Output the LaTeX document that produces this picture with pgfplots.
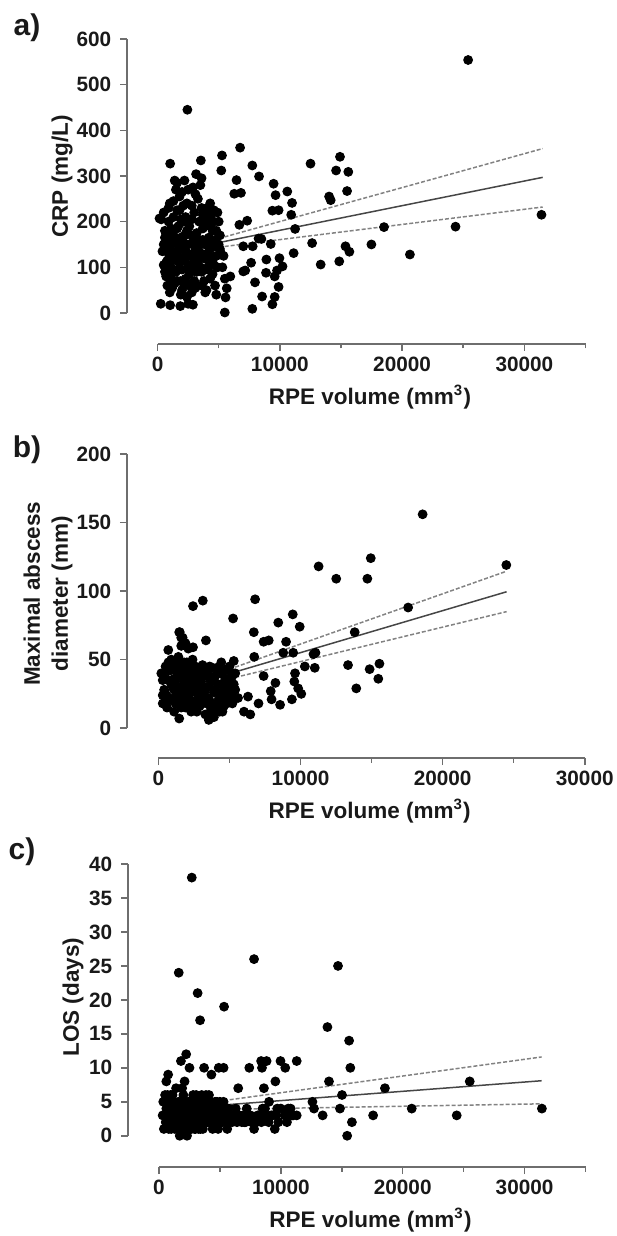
\documentclass[border=0pt]{standalone}
\usepackage{fontspec}
\setmainfont{Liberation Sans}
\usepackage{pgfplots}
\pgfplotsset{compat=1.18}
\definecolor{axgray}{RGB}{110,110,110}
\definecolor{txt}{RGB}{25,25,25}
\definecolor{fitline}{RGB}{70,70,70}
\definecolor{ciline}{RGB}{130,130,130}

\pgfplotsset{
  panel/.style={
    scale only axis,
    axis lines=left,
    axis line style={draw=none},
    tick align=outside,
    major tick length=2.8pt,
    minor tick length=1.8pt,
    every tick/.style={axgray, line width=0.6pt},
    /pgf/number format/assume math mode=true,
    ticklabel style={font=\fontsize{8.3}{9}\selectfont\bfseries, text=txt},
    xticklabel style={yshift=1pt},
    label style={font=\fontsize{9}{11.2}\selectfont\bfseries, text=txt},
    clip=false,
    scaled x ticks=false,
    xtick={0,10000,20000,30000},
    xticklabels={0,10000,20000,30000},
    xlabel={RPE volume (mm\textsuperscript{3})},
    xlabel style={at={(rel axis cs:0.53,0)}, anchor=center, yshift=-21.2pt},
  },
  dots/.style={only marks, mark=*, mark size=1.75pt, black, mark options={fill=black, draw=black}},
  fit/.style={fitline, line width=0.6pt, no marks},
  ci/.style={ciline, line width=0.6pt, dash pattern=on 1.6pt off 0.8pt, no marks},
}

\begin{document}
\begin{tikzpicture}
\path[use as bounding box] (0,0) rectangle (246.4pt,-494.4pt);

\node[font=\fontsize{12}{13}\selectfont\bfseries, text=txt] at (10.8pt,-11.2pt) {a)};
\node[font=\fontsize{12}{13}\selectfont\bfseries, text=txt] at (10.8pt,-180pt) {b)};
\node[font=\fontsize{12}{13}\selectfont\bfseries, text=txt] at (8.8pt,-340.8pt) {c)};

% ---------------- a) CRP
\begin{axis}[panel,
  at={(50.8pt,-137.6pt)}, anchor=south west,
  width=183.4pt, height=122pt,
  xmin=-2500, xmax=35000, ymin=-68, ymax=600,
  ytick={0,100,200,300,400,500,600},
  minor xtick={5000,15000,25000,35000},
  ylabel={CRP (mg/L)},
  ylabel style={at={(rel axis cs:0,0.55)}, anchor=center, yshift=26pt},
]
\draw[axgray, line width=0.6pt] (axis cs:-2500,0) -- (axis cs:-2500,600);
\draw[axgray, line width=0.6pt] (axis cs:0,-68) -- (axis cs:35000,-68);
\addplot[ci] coordinates {(5000,163) (31500,360)};
\addplot[fit] coordinates {(5000,154) (31500,297)};
\addplot[ci] coordinates {(5000,144) (31500,232)};
\addplot[dots] coordinates {
(25400,554)(2440,445)(31400,215)(24370,189)(18520,188)(20640,128)(17490,150)(14860,113)
(13340,106)(12640,153)(12510,327)(14920,342)(14600,312)(15600,309)(15500,267)(14030,255)
(14160,247)(15370,146)(15690,134)(11130,131)(11250,184)(10930,215)(11000,241)(10610,266)
(9490,283)(9650,258)(9390,224)(9900,225)(9260,151)(9970,120)(10220,102)(9770,93)
(9580,80)(9900,57)(9580,35)(9390,19)(8900,117)(8870,88)(8550,36)(8260,163)
(8490,162)(7970,67)(8300,299)(7750,323)(7750,9)(6750,362)(6460,291)(6270,261)
(6820,263)(7330,202)(6690,193)(7010,146)(7780,146)(7650,110)(7170,93)(7010,91)
(5950,80)(5660,54)(5560,34)(5500,1)(5270,345)(5210,312)(3540,334)(3150,304)(1030,327)
(160,207)(260,20)(1030,17)(1860,15)(2500,20)(2890,18)
(300,205)(500,220)(600,165)(400,135)(500,105)(700,80)(800,60)(900,130)(1000,240)
(1100,185)(1200,120)(1300,95)(1000,45)(1400,290)(1500,270)(1600,225)(1700,150)
(1800,110)(1900,70)(2000,50)(2100,200)(2200,170)(2300,135)(2400,240)(2500,100)
(2600,85)(2700,60)(2800,205)(2900,155)(3000,120)(3100,260)(3200,175)(3300,140)
(3400,95)(3500,280)(3600,230)(3700,160)(3800,70)(3900,45)(4000,200)(4100,130)
(4200,105)(4300,240)(4400,215)(4500,180)(4600,145)(4700,60)(4800,125)(4900,220)
(5000,200)(5200,130)(5400,125)(5500,75)(5300,100)(1200,160)(800,115)(1500,90)
(2000,120)(2500,150)(3000,70)(3500,100)(4000,50)(4500,85)(1800,140)(2200,115)
(2700,125)(3200,130)(1400,65)(1900,40)(2400,35)(900,100)(1600,185)(2100,235)
(3800,120)(4200,165)(1100,140)(1700,125)(2900,95)(3400,200)(2600,190)(1300,210)
(700,140)(2000,95)(3600,90)(4400,120)(3100,55)(2300,75)(1000,110)(1500,160)
(2800,45)(4100,95)(3900,150)(4600,225)(5100,170)(4800,40)(3300,250)(2500,270)
(1800,255)(2200,290)(1600,285)(3700,215)(4300,190)(600,90)(1200,55)(1900,205)
(600,180)(900,200)(1100,75)(1300,170)(1700,190)(1700,95)(2100,155)(2300,210)
(2400,180)(2600,125)(2800,170)(3000,220)(3000,160)(3200,90)(3400,160)(3600,130)
(3700,185)(3900,95)(4100,230)(4300,75)(4500,115)(4700,160)(4900,100)(5100,140)
(800,170)(1000,150)(1400,130)(1500,115)(1900,165)(2200,60)(2700,105)(3300,110)
(3500,150)(3800,205)(4000,160)(4400,150)(4600,105)(5000,150)(500,150)(700,110)
(1100,90)(1600,70)(2000,145)(2400,130)(2600,60)(2900,130)(3100,140)(3400,120)
(3600,60)(4200,135)(4800,180)(1300,245)(2000,265)(2900,275)(3600,295)(4100,215)
(4600,200)(900,230)(1800,225)(2800,235)
};
\end{axis}

% ---------------- b) Maximal abscess diameter
\begin{axis}[panel,
  at={(50.8pt,-303.2pt)}, anchor=south west,
  width=183.1pt, height=121.6pt,
  xmin=-2215, xmax=30000, ymin=-21.8, ymax=200,
  ytick={0,50,100,150,200},
  minor xtick={5000,15000,25000},
  ylabel={Maximal abscess\\diameter (mm)},
  ylabel style={at={(rel axis cs:0,0.54)}, anchor=center, yshift=31.6pt, align=center},
]
\draw[axgray, line width=0.6pt] (axis cs:-2215,0) -- (axis cs:-2215,200);
\draw[axgray, line width=0.6pt] (axis cs:0,-21.8) -- (axis cs:30000,-21.8);
\addplot[ci] coordinates {(5400,44.5) (24500,114.5)};
\addplot[fit] coordinates {(5400,41) (24500,99.5)};
\addplot[ci] coordinates {(5400,37) (24500,85)};
\addplot[dots] coordinates {
(18590,156)(24480,119)(14940,124)(11270,118)(12510,109)(14700,109)(17570,88)(13810,70)
(13340,46)(14860,43)(15550,47)(15470,36)(13920,29)(11050,55)(10910,54)(10300,45)
(11000,44)(9940,74)(9450,83)(8430,77)(8980,63)(8780,55)(9480,55)(7760,64)
(7400,63)(6800,94)(6710,70)(6740,52)(7400,38)(8230,33)(7900,27)(7960,21)
(8560,17)(9390,21)(9560,34)(9610,40)(9830,29)(10050,25)(5250,80)(5300,49)
(7040,18)(6300,23)(6460,10)(6020,12)(3120,93)(2430,89)(3340,64)(1460,70)
(1600,66)(2430,59)(690,57)(1460,7)(3540,6)(4420,48)(5250,20)
(200,40)(300,18)(400,28)(500,45)(600,15)(700,35)(800,22)(900,50)(1000,30)
(1100,12)(1200,42)(1300,25)(1400,52)(1500,18)(1600,38)(1700,28)(1800,48)
(1900,15)(2000,33)(2100,22)(2200,44)(2300,12)(2400,30)(2500,38)(2600,20)
(2700,26)(2800,40)(2900,16)(3000,34)(3100,46)(3200,24)(3300,10)(3400,30)
(3500,42)(3600,20)(3700,8)(3800,36)(3900,26)(4000,14)(4100,44)(4200,32)
(4300,22)(4400,40)(4500,12)(4600,28)(4700,36)(4800,18)(4900,42)(5000,30)
(5100,24)(5200,38)(5400,28)(5600,22)(500,25)(1000,20)(1500,30)(2000,48)
(2500,15)(3000,22)(3500,30)(4000,38)(1200,35)(1800,25)(2200,35)(2800,30)
(3200,38)(800,42)(1600,15)(2400,50)(3600,45)(4200,20)(300,35)(1400,40)
(2600,45)(3800,16)(1100,28)(1900,40)(2700,12)(3300,28)(4400,25)(600,20)
(1300,48)(2100,30)(2900,36)(3900,34)(4600,16)(1700,20)(2300,26)(3100,18)
(4800,34)(900,32)(2000,18)(3400,40)(5000,45)
(1500,70)(1700,66)(1900,62)(2100,58)(1600,60)(500,36)(700,48)(1000,44)
(1200,18)(1400,22)(1600,44)(1800,34)(2000,26)(2200,16)(2400,40)(2600,32)
(2800,22)(3000,44)(3200,30)(3400,18)(3600,36)(3800,44)(4000,28)(4200,40)
(4400,32)(4600,42)(4800,26)(5000,36)(5200,18)(5400,40)(300,24)(600,42)
(1100,36)(1700,46)(2300,38)(2900,26)(3500,22)(4100,16)(4700,22)(5300,32)
(3700,14)(3900,8)(4300,12)
};
\end{axis}

% ---------------- c) LOS
\begin{axis}[panel,
  at={(51.2pt,-466.8pt)}, anchor=south west,
  width=183pt, height=121.2pt,
  xmin=-2544, xmax=35000, ymin=-4.6, ymax=40,
  ytick={0,5,10,15,20,25,30,35,40},
  minor xtick={5000,15000,25000,35000},
  ylabel={LOS (days)},
  ylabel style={at={(rel axis cs:0,0.56)}, anchor=center, yshift=22pt},
]
\draw[axgray, line width=0.6pt] (axis cs:-2544,0) -- (axis cs:-2544,40);
\draw[axgray, line width=0.6pt] (axis cs:0,-4.6) -- (axis cs:35000,-4.6);
\addplot[ci] coordinates {(5800,5.3) (31400,11.6)};
\addplot[fit] coordinates {(5800,4.6) (31400,8.1)};
\addplot[ci] coordinates {(5800,3.9) (31400,4.7)};
\addplot[dots] coordinates {
(2690,38)(1620,24)(3170,21)(3370,17)(5340,19)(7800,26)(14690,25)(13820,16)
(15600,14)(15700,10)(11300,11)(9970,11)(10360,10)(8380,11)(8830,11)(8450,10)
(7410,10)(9550,8)(8610,7)(9030,5)(6500,7)(13950,8)(18540,7)(25500,8)
(15020,6)(14850,4)(20740,4)(31420,4)(17570,3)(24430,3)(13430,3)(15830,2)
(15440,0)(12590,5)(12720,4)(2230,12)(1800,11)(2500,10)(3700,10)(4300,9)
(4900,10)(5300,10)(750,9)(600,8)(2100,8)
(300,3)(400,1)(500,6)(600,4)(700,2)(800,5)(900,3)(1000,1)(1100,6)(1200,4)
(1300,2)(1400,7)(1500,3)(1600,5)(1700,0)(1800,2)(1900,4)(2000,6)(2100,3)
(2200,1)(2300,0)(2400,5)(2500,3)(2600,2)(2700,4)(2800,6)(2900,3)(3000,1)
(3100,5)(3200,2)(3300,4)(3400,3)(3500,6)(3600,1)(3700,2)(3800,4)(3900,5)
(4000,3)(4100,6)(4200,2)(4300,4)(4400,1)(4500,3)(4600,5)(4700,2)(4800,4)
(4900,3)(5000,5)(5200,2)(5400,4)(5600,1)(5800,3)(6000,2)(6300,4)(6600,3)
(7000,2)(7200,4)(7500,3)(7800,1)(8000,2)(8200,3)(8500,4)(8800,3)(9000,2)
(9300,3)(9500,1)(9800,2)(10000,4)(10300,3)(10600,4)(11000,3)(11300,3)
(1200,3)(1500,2)(1800,3)(2000,2)(2200,3)(2500,4)(2800,2)(3000,3)(3300,3)
(3600,3)(4000,2)(4400,4)(4800,2)(5200,3)(600,3)(1000,4)(1400,3)(2400,3)
(3800,3)(5500,3)(6800,2)(7400,3)(8600,3)(9600,3)(10800,4)(1600,2)(2600,3)
(3200,4)(4200,3)(800,1)(1300,1)(2900,1)(3400,1)(4600,2)(5600,2)(700,6)
(1100,6)(1900,7)
(350,5)(550,2)(650,5)(850,4)(950,6)(1050,3)(1150,2)(1250,5)(1350,3)(1450,4)
(1550,1)(1650,4)(1750,3)(1850,5)(1950,1)(2050,4)(2150,5)(2250,2)(2350,4)
(2450,2)(2550,5)(2650,1)(2750,3)(2850,5)(2950,4)(3050,6)(3150,3)(3250,1)
(3350,5)(3450,4)(3550,2)(3650,5)(3750,3)(3850,6)(3950,2)(4050,4)(4150,3)
(4250,5)(4350,2)(4450,3)(4550,4)(4650,3)(4750,5)(4850,1)(4950,2)(5050,4)
(5150,3)(5300,5)(5700,4)(6100,3)(6400,2)(6900,3)(7100,2)(7600,2)(8100,3)
(8400,2)(8700,4)(9200,3)(9700,4)(10500,2)(10900,3)
};
\end{axis}
\end{tikzpicture}
\end{document}
